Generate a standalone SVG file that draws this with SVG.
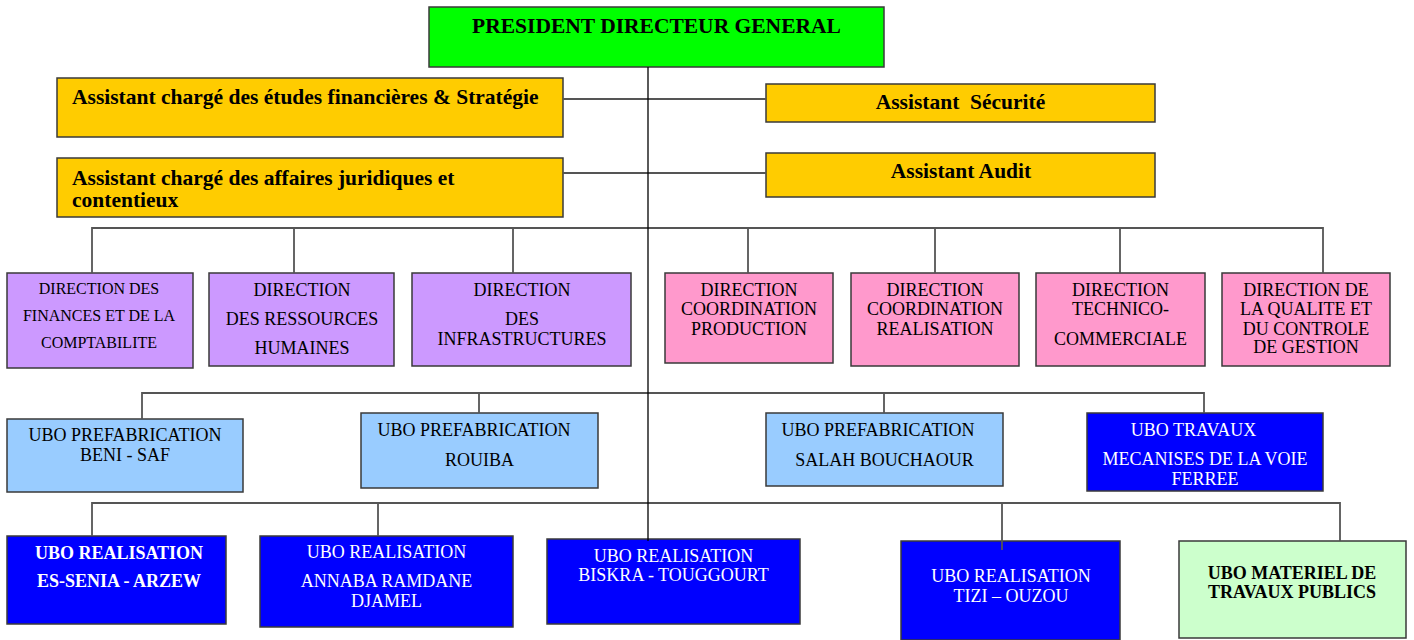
<svg xmlns="http://www.w3.org/2000/svg" width="1414" height="640" viewBox="0 0 1414 640">
  <style>
    .box { stroke: #3a3a3a; stroke-width: 1.5; }
    .pdg { fill: #00ff00; }
    .asst { fill: #ffcc00; }
    .dirA { fill: #cc99ff; }
    .dirB { fill: #ff99cc; }
    .pref { fill: #99ccff; }
    .ubo { fill: #0000ff; }
    .mat { fill: #ccffcc; }
    text { font-family: "Liberation Serif", "Times New Roman", serif; font-size: 18px; fill: #000; text-anchor: middle; }
    .b { font-weight: bold; }
    .big { font-size: 21.5px; font-weight: bold; }
    .sm { font-size: 16px; }
    .w { fill: #fff; }
    .l { text-anchor: start; }
    .bus { stroke: #555; stroke-width: 1.8; fill: none; }
    .trunk { stroke: #000; stroke-width: 1.3; fill: none; }
  </style>

  <rect width="1414" height="640" fill="#fff"/>

  <!-- boxes -->
  <g id="pdg">
    <rect class="box pdg" x="429" y="7" width="455" height="60"/>
    <text class="big" x="656.5" y="33">PRESIDENT DIRECTEUR GENERAL</text>
  </g>

  <g id="asst-finance">
    <rect class="box asst" x="57" y="78" width="506" height="59"/>
    <text class="big l" x="72" y="104">Assistant chargé des études financières &amp; Stratégie</text>
  </g>
  <g id="asst-juridique">
    <rect class="box asst" x="57" y="158" width="506" height="59"/>
    <text class="big l" x="72" y="185">Assistant chargé des affaires juridiques et</text>
    <text class="big l" x="72" y="207">contentieux</text>
  </g>
  <g id="asst-securite">
    <rect class="box asst" x="766" y="84" width="389" height="38"/>
    <text class="big" x="960.5" y="109" xml:space="preserve">Assistant  Sécurité</text>
  </g>
  <g id="asst-audit">
    <rect class="box asst" x="766" y="153" width="389" height="44"/>
    <text class="big" x="961" y="178">Assistant Audit</text>
  </g>

  <g id="dir-finances">
    <rect class="box dirA" x="7" y="273" width="186" height="95"/>
    <text class="sm" x="99" y="294">DIRECTION DES</text>
    <text class="sm" x="99" y="321">FINANCES ET DE LA</text>
    <text class="sm" x="99" y="348">COMPTABILITE</text>
  </g>
  <g id="dir-rh">
    <rect class="box dirA" x="209" y="273" width="185" height="93"/>
    <text x="302" y="296">DIRECTION</text>
    <text x="302" y="325">DES RESSOURCES</text>
    <text x="302" y="354">HUMAINES</text>
  </g>
  <g id="dir-infra">
    <rect class="box dirA" x="412" y="273" width="219" height="93"/>
    <text x="522" y="296">DIRECTION</text>
    <text x="522" y="325">DES</text>
    <text x="522" y="345">INFRASTRUCTURES</text>
  </g>
  <g id="dir-production">
    <rect class="box dirB" x="665" y="273" width="168" height="90"/>
    <text x="749" y="296">DIRECTION</text>
    <text x="749" y="315">COORDINATION</text>
    <text x="749" y="335">PRODUCTION</text>
  </g>
  <g id="dir-realisation">
    <rect class="box dirB" x="851" y="273" width="168" height="93"/>
    <text x="935" y="296">DIRECTION</text>
    <text x="935" y="315">COORDINATION</text>
    <text x="935" y="335">REALISATION</text>
  </g>
  <g id="dir-commerciale">
    <rect class="box dirB" x="1036" y="273" width="169" height="93"/>
    <text x="1120.5" y="296">DIRECTION</text>
    <text x="1120.5" y="315">TECHNICO-</text>
    <text x="1120.5" y="345">COMMERCIALE</text>
  </g>
  <g id="dir-qualite">
    <rect class="box dirB" x="1222" y="273" width="168" height="93"/>
    <text x="1306" y="296">DIRECTION DE</text>
    <text x="1306" y="315">LA QUALITE ET</text>
    <text x="1306" y="335">DU CONTROLE</text>
    <text x="1306" y="353">DE GESTION</text>
  </g>

  <g id="pref-benisaf">
    <rect class="box pref" x="7" y="419" width="236" height="73"/>
    <text x="125" y="441">UBO PREFABRICATION</text>
    <text x="125" y="461">BENI - SAF</text>
  </g>
  <g id="pref-rouiba">
    <rect class="box pref" x="361" y="413" width="237" height="75"/>
    <text x="474" y="436">UBO PREFABRICATION</text>
    <text x="479.5" y="466">ROUIBA</text>
  </g>
  <g id="pref-bouchaour">
    <rect class="box pref" x="766" y="413" width="237" height="73"/>
    <text x="878" y="436">UBO PREFABRICATION</text>
    <text x="884.5" y="466">SALAH BOUCHAOUR</text>
  </g>
  <g id="ubo-voie-ferree">
    <rect class="box ubo" x="1087" y="413" width="236" height="78"/>
    <text class="w" x="1193.5" y="436">UBO TRAVAUX</text>
    <text class="w" x="1205" y="465">MECANISES DE LA VOIE</text>
    <text class="w" x="1205" y="485">FERREE</text>
  </g>

  <g id="ubo-arzew">
    <rect class="box ubo" x="7" y="536" width="219" height="88"/>
    <text class="b w" x="119" y="559">UBO REALISATION</text>
    <text class="b w" x="119" y="587">ES-SENIA - ARZEW</text>
  </g>
  <g id="ubo-annaba">
    <rect class="box ubo" x="260" y="536" width="253" height="91"/>
    <text class="w" x="386.5" y="558">UBO REALISATION</text>
    <text class="w" x="386.5" y="587">ANNABA RAMDANE</text>
    <text class="w" x="386.5" y="607">DJAMEL</text>
  </g>
  <g id="ubo-biskra">
    <rect class="box ubo" x="547" y="539" width="253" height="85"/>
    <text class="w" x="673.5" y="562">UBO REALISATION</text>
    <text class="w" x="673.5" y="581">BISKRA - TOUGGOURT</text>
  </g>
  <g id="ubo-tizi">
    <rect class="box ubo" x="901" y="541" width="219" height="99"/>
    <text class="w" x="1011" y="582">UBO REALISATION</text>
    <text class="w" x="1011" y="602">TIZI – OUZOU</text>
  </g>
  <g id="ubo-materiel">
    <rect class="box mat" x="1179" y="541" width="227" height="97"/>
    <text class="b" x="1292" y="579">UBO MATERIEL DE</text>
    <text class="b" x="1292" y="598">TRAVAUX PUBLICS</text>
  </g>

  <!-- connectors -->
  <g id="connectors">
    <path class="bus" d="M563 99 H766 M563 173 H766"/>
    <path class="bus" d="M92 273 V228 H1323 V273 M294 228 V273 M513 228 V273 M748 228 V273 M935 228 V273 M1120 228 V273"/>
    <path class="bus" d="M142 419 V393 H1204 V413 M479 393 V413 M884 393 V413"/>
    <path class="bus" d="M92 536 V503 H1340 V541 M378 503 V536 M1002 503 V550"/>
    <path class="trunk" d="M648 67 V541"/>
  </g>
</svg>
